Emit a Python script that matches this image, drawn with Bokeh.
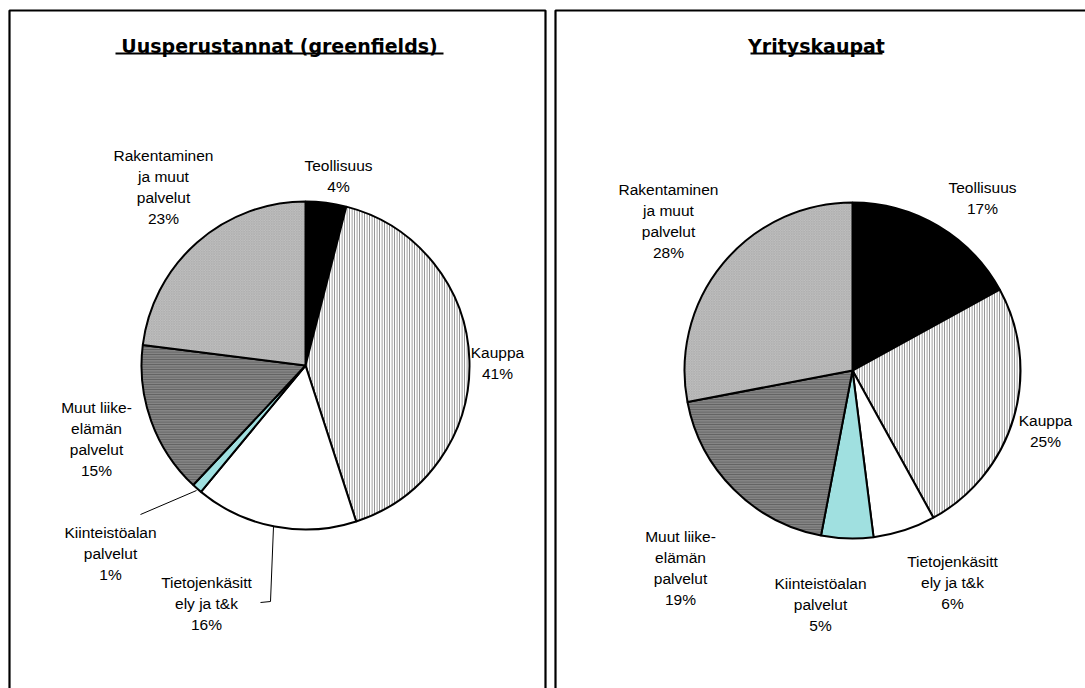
import math
from bokeh.plotting import figure
from bokeh.models import Range1d, ColumnDataSource
from bokeh.core.properties import value
from bokeh.embed import file_html
from bokeh.resources import INLINE

# ---- data ----
categories = ["Teollisuus", "Kauppa", "Tietojenkäsittely ja t&k",
              "Kiinteistöalan palvelut", "Muut liike-elämän palvelut",
              "Rakentaminen ja muut palvelut"]
label_lines = [["Teollisuus"], ["Kauppa"], ["Tietojenkäsitt", "ely ja t&k"],
               ["Kiinteistöalan", "palvelut"], ["Muut liike-", "elämän", "palvelut"],
               ["Rakentaminen", "ja muut", "palvelut"]]
greenfield_pct = [4, 41, 16, 1, 15, 23]
acquisition_pct = [17, 25, 6, 5, 19, 28]
titles = ["Uusperustannat (greenfields)", "Yrityskaupat"]

# ---- styles ----
fills = ["#000000", "#ffffff", "#ffffff", "#a0e0e0", "#858585", "#c9c9c9"]
hatches = [" ", "|", " ", " ", "-", "x"]
hatch_colors = ["#000000", "#8a8a8a", "#000000", "#000000", "#606060", "#b0b0b0"]

W, H = 1085, 688
def Y(s):
    return H - s

p = figure(width=W, height=H, output_backend="svg", toolbar_location=None,
           x_range=Range1d(0, W), y_range=Range1d(0, H),
           min_border=0, outline_line_color=None)
p.axis.visible = False
p.grid.visible = False
p.background_fill_color = "white"
p.border_fill_color = "white"

FONT = value("Liberation Sans")

# panel borders
for x0, x1 in [(9, 545), (555, 1100)]:
    p.line([x0, x0, x1, x1], [Y(700), Y(10), Y(10), Y(700)], line_color="black", line_width=2.2)

# titles
title_pos = [(279, 45, 115, 443), (816, 45, 750, 882)]
for t, (tx, ty, u0, u1) in zip(titles, title_pos):
    p.text(x=[tx], y=[Y(ty)], text=[t], text_align="center", text_baseline="middle",
           text_font=value("DejaVu Sans"), text_font_style="bold", text_font_size="19px",
           text_color="black")
    p.line([u0, u1], [Y(53), Y(53)], line_color="black", line_width=2)

pies = [
    dict(vals=greenfield_pct, cx=305, cy=365, r=164,
         labels=[(338, 165), (497, 352), (206, 582), (110, 532), (96, 407), (163, 155)]),
    dict(vals=acquisition_pct, cx=852, cy=370, r=168,
         labels=[(982, 187), (1045, 420), (952, 561), (820, 583), (680, 536), (668, 189)]),
]

for pie in pies:
    vals = pie["vals"]
    total = float(sum(vals))
    starts, ends = [], []
    cum = 0.0
    for v in vals:
        a0 = math.pi / 2 - 2 * math.pi * cum / total
        cum += v
        a1 = math.pi / 2 - 2 * math.pi * cum / total
        starts.append(a1)
        ends.append(a0)
    src = ColumnDataSource(dict(x=[pie["cx"]] * len(vals), y=[Y(pie["cy"])] * len(vals),
                                start=starts, end=ends, fill=fills, hatch=hatches,
                                hcol=hatch_colors))
    p.wedge(x="x", y="y", radius=pie["r"], radius_units="screen",
            start_angle="start", end_angle="end", source=src,
            fill_color="fill", hatch_pattern="hatch", hatch_color="hcol",
            hatch_scale=2.5, hatch_weight=1.2, line_color="black", line_width=2)
    # labels
    for lines, v, (lx, ly) in zip(label_lines, vals, pie["labels"]):
        all_lines = lines + [f"{v}%"]
        xs = [lx] * len(all_lines)
        ys = [Y(ly + 21 * i) for i in range(len(all_lines))]
        p.text(x=xs, y=ys, text=all_lines, text_align="center", text_baseline="middle",
               text_font=FONT, text_font_size="15.5px", text_color="black")

# leader lines (left pie)
p.line([260, 270, 273], [Y(602), Y(601), Y(526)], line_color="black", line_width=1)
p.line([140, 196], [Y(514), Y(490)], line_color="black", line_width=1)

open("out.html", "w").write(file_html(p, INLINE))
